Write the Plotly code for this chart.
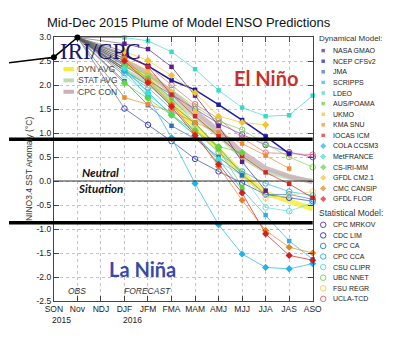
import plotly.graph_objects as go

W, H = 400, 339

# ---------------- data ----------------
axis_seasons = ["SON", "Nov", "NDJ", "DJF", "JFM", "FMA", "MAM", "AMJ", "MJJ", "JJA", "JAS", "ASO"]
pre_seasons = {"JAS 2015": -2, "ASO 2015": -1}
year_labels = {"SON": "2015", "DJF": "2016"}
fc_seasons = ["DJF", "JFM", "FMA", "MAM", "AMJ", "MJJ", "JJA", "JAS", "ASO"]

obs_seasons = ["JAS 2015", "SON", "Nov"]
obs_vals = [2.46, 2.58, 2.99]

dyn_names = ["NASA GMAO", "NCEP CFSv2", "JMA", "SCRIPPS", "LDEO", "AUS/POAMA", "UKMO",
             "KMA SNU", "IOCAS ICM", "COLA CCSM3", "MetFRANCE", "CS-IRI-MM",
             "GFDL CM2.1", "CMC CANSIP", "GFDL FLOR"]
dyn_colors = ["#5b1f8f", "#1c1ca8", "#2a6fc2", "#2fb0e4", "#3fd8c8", "#62cf3c", "#f2c33c",
              "#f08a2c", "#d42424", "#22b2e6", "#3fe0d2", "#5ed83c", "#f4c42c",
              "#e6821e", "#d42020"]
dyn_symbols = ["square"] * 9 + ["diamond"] * 6
dyn_values = [
    [2.86, 2.75, 2.38, 1.78, 1.15, 0.40, -0.20, None, None],      # NASA GMAO
    [2.62, 2.40, 2.10, 1.90, 1.59, 1.27, 0.93, 0.57, None],       # NCEP CFSv2
    [2.08, 1.58, 1.15, 0.88, 0.50, 0.12, None, None, None],       # JMA
    [2.34, 1.85, 1.37, 0.95, 0.45, -0.18, -0.71, -1.25, -1.63],   # SCRIPPS
    [2.99, 2.92, 2.69, 2.33, 1.89, 1.53, 1.35, 1.37, 1.78],       # LDEO
    [2.42, 2.15, 1.72, 1.22, 0.66, -0.12, None, None, None],      # AUS/POAMA
    [2.55, 2.30, 1.86, 1.45, None, None, None, None, None],       # UKMO
    [1.74, 1.60, 1.45, 1.22, 1.01, 0.78, 0.53, 0.26, None],       # KMA SNU
    [2.65, 2.38, 1.80, 1.35, 0.93, 0.52, 0.18, -0.06, -0.35],     # IOCAS ICM
    [2.30, 1.75, 0.90, -0.05, -0.91, -1.52, -1.80, -1.83, -1.72], # COLA CCSM3
    [2.35, 1.84, 1.38, 0.95, 0.45, None, None, None, None],       # MetFRANCE
    [2.04, 1.72, 1.37, 1.05, 0.72, 0.59, None, None, None],       # CS-IRI-MM
    [2.70, 2.51, 2.20, 1.84, 1.35, 1.22, 1.17, None, None],       # GFDL CM2.1
    [2.55, 2.10, 1.60, 1.00, 0.30, -0.40, -1.03, -1.38, -1.50],   # CMC CANSIP
    [2.50, 2.05, 1.55, 0.95, 0.35, -0.25, -1.10, -1.55, -1.65],   # GFDL FLOR
]

stat_names = ["CPC MRKOV", "CDC LIM", "CPC CA", "CPC CCA", "CSU CLIPR", "UBC NNET",
              "FSU REGR", "UCLA-TCD"]
stat_colors = ["#6a42c0", "#3442c4", "#3a86d4", "#34b4e2", "#62dde2", "#7ad85a",
               "#f0d264", "#e4707c"]
stat_values = [
    [2.40, 2.10, 1.80, 1.50, 1.20, 0.97, 0.75, 0.60, 0.50],       # CPC MRKOV
    [1.51, 1.17, 0.83, 0.46, 0.20, -0.04, -0.28, -0.35, -0.42],   # CDC LIM
    [2.30, 2.00, 1.60, 1.20, 0.70, 0.14, -0.28, -0.28, -0.38],    # CPC CA
    [2.25, 1.95, 1.50, 1.05, 0.60, 0.20, -0.05, -0.22, -0.30],    # CPC CCA
    [2.20, 1.80, 1.40, 1.00, 0.40, 0.12, -0.55, -0.63, -0.45],    # CSU CLIPR
    [2.45, 2.20, 1.90, 1.55, 1.25, 1.07, 0.77, 0.50, 0.29],       # UBC NNET
    [2.35, 2.00, 1.60, 1.10, 0.60, 0.10, -0.35, -0.30, -0.22],    # FSU REGR
    [2.60, 2.40, 2.00, 1.60, 1.30, 0.90, 0.59, 0.57, 0.55],       # UCLA-TCD
]

avg_names = ["DYN AVG", "STAT AVG", "CPC CON"]
avg_colors = ["#f6ee3a", "#b9dcb4", "#cdb1b9"]
avg_values = [
    [2.45, 2.17, 1.62, 1.15, 0.65, 0.15, -0.25, -0.42, -0.58],
    [2.30, 2.05, 1.70, 1.35, 0.95, 0.50, 0.20, 0.07, 0.00],
    [2.50, 2.25, 1.85, 1.45, 1.05, 0.60, 0.27, 0.10, -0.02],
]

neutral_bounds = [0.87, -0.87]
y_ticks = [3.0, 2.5, 2.0, 1.5, 1.0, 0.5, 0.0, -0.5, -1.0, -1.5, -2.0, -2.5]

# ---------------- geometry ----------------
X_SON, X_ASO = 47, 318
Y_TOP, Y_BOT = 33, 305
PX = (X_ASO - X_SON) / 11
FONT = "Liberation Sans, Arial, sans-serif"


def idx(s):
    if s in pre_seasons:
        return pre_seasons[s]
    return axis_seasons.index(s)


fc_x = [idx(s) for s in fc_seasons]

fig = go.Figure()

# Nov -> DJF connectors (gray)
cx, cy = [], []
for vals in avg_values + dyn_values + stat_values:
    cx += [idx("Nov"), fc_x[0], None]
    cy += [obs_vals[-1], vals[0], None]
fig.add_trace(go.Scatter(x=cx, y=cy, mode="lines", line=dict(color="#5a5a5a", width=0.6),
                         hoverinfo="skip", showlegend=False))

# averages (thick)
for name, col, vals in zip(avg_names, avg_colors, avg_values):
    fig.add_trace(go.Scatter(x=fc_x, y=vals, mode="lines", name=name,
                             line=dict(color=col, width=5 if name == "DYN AVG" else 4.5),
                             opacity=0.85, showlegend=False))

# statistical models
for name, col, vals in zip(stat_names, stat_colors, stat_values):
    fig.add_trace(go.Scatter(x=fc_x, y=vals, mode="lines+markers", name=name,
                             line=dict(color=col, width=0.7),
                             marker=dict(symbol="circle-open", size=5.5, color=col,
                                         line=dict(width=1, color=col)),
                             cliponaxis=False, showlegend=False))

# dynamical models
for name, col, sym, vals in zip(dyn_names, dyn_colors, dyn_symbols, dyn_values):
    fig.add_trace(go.Scatter(x=fc_x, y=vals, mode="lines+markers", name=name,
                             line=dict(color=col, width=1.5 if name == "NCEP CFSv2" else 0.7),
                             marker=dict(symbol=sym, size=4.5 if sym == "square" else 5.5,
                                         color=col, line=dict(width=0)),
                             cliponaxis=False, showlegend=False))

# observations (on extended overlay axis so the lead-in reaches the left edge)
fig.add_trace(go.Scatter(x=[idx(s) for s in obs_seasons], y=obs_vals, mode="lines",
                         line=dict(color="black", width=1.5), xaxis="x2", yaxis="y2",
                         hoverinfo="skip", showlegend=False))
fig.add_trace(go.Scatter(x=[idx(s) for s in obs_seasons[1:]], y=obs_vals[1:], mode="markers",
                         marker=dict(color="black", size=6), cliponaxis=False,
                         xaxis="x2", yaxis="y2", showlegend=False))

# right-hand legend markers (pixel overlay axis)
LEG_MX, LEG_TX = 329, 337
dyn_leg_y = [47 + 10.92 * i for i in range(len(dyn_names))]
stat_leg_y = [226.5 + 10.9 * i for i in range(len(stat_names))]
fig.add_trace(go.Scatter(x=[LEG_MX] * len(dyn_names), y=dyn_leg_y, mode="markers",
                         marker=dict(symbol=dyn_symbols, color=dyn_colors,
                                     size=[4.5 if s == "square" else 5.5 for s in dyn_symbols]),
                         xaxis="x3", yaxis="y3", hoverinfo="skip", showlegend=False))
fig.add_trace(go.Scatter(x=[LEG_MX] * len(stat_names), y=stat_leg_y, mode="markers",
                         marker=dict(symbol="circle-open", color=stat_colors, size=5.5,
                                     line=dict(width=1, color=stat_colors)),
                         xaxis="x3", yaxis="y3", hoverinfo="skip", showlegend=False))

# ---------------- layout ----------------
ydom = [(H - Y_BOT) / H, (H - Y_TOP) / H]
fig.update_layout(
    width=W, height=H, margin=dict(l=0, r=0, t=0, b=0),
    paper_bgcolor="white", plot_bgcolor="rgba(0,0,0,0)", showlegend=False,
    xaxis=dict(domain=[X_SON / W, X_ASO / W], range=[0, 11], tickvals=list(range(12)),
               ticktext=axis_seasons, ticks="inside", ticklen=5, tickcolor="#444",
               mirror="ticks", showline=True, linecolor="#444", linewidth=1,
               showgrid=True, gridcolor="#c4c4c4", griddash="dot", gridwidth=0.8,
               zeroline=False, tickfont=dict(family=FONT, size=8.5, color="#222"),
               anchor="y", fixedrange=True),
    yaxis=dict(domain=ydom, range=[-2.5, 3.0], tickvals=y_ticks,
               ticktext=[f"{v:.1f}" for v in y_ticks], ticks="inside", ticklen=5,
               tickcolor="#444", mirror="ticks", showline=True, linecolor="#444", linewidth=1,
               showgrid=True, gridcolor="#c4c4c4", griddash="dot", gridwidth=0.8,
               zeroline=False, tickfont=dict(family=FONT, size=8.5, color="#222"),
               anchor="x", fixedrange=True),
    xaxis2=dict(domain=[0, X_ASO / W], range=[-X_SON / PX, 11], visible=False, anchor="y2"),
    yaxis2=dict(domain=ydom, range=[-2.5, 3.0], visible=False, anchor="x2"),
    xaxis3=dict(domain=[0, 1], range=[0, W], visible=False, anchor="y3"),
    yaxis3=dict(domain=[0, 1], range=[H, 0], visible=False, anchor="x3"),
)

shapes = []
for b in neutral_bounds:
    shapes.append(dict(type="line", xref="paper", x0=0, x1=X_ASO / W, yref="y", y0=b, y1=b,
                       line=dict(color="black", width=3.5), layer="above"))
shapes.append(dict(type="line", xref="x", x0=0, x1=11, yref="y", y0=0, y1=0,
                   line=dict(color="#333", width=1.2), layer="above"))
# in-plot legend samples
for i, (name, col) in enumerate(zip(avg_names, avg_colors)):
    yy = 66 + 11.7 * i
    shapes.append(dict(type="line", xref="paper", yref="paper", x0=57 / W, x1=68 / W,
                       y0=1 - yy / H, y1=1 - yy / H, line=dict(color=col, width=4)))
fig.update_layout(shapes=shapes)


def ann(text, x, y, size, color="#222", family=FONT, xanchor="center", **kw):
    return dict(text=text, x=x / W, y=1 - y / H, xref="paper", yref="paper",
                showarrow=False, xanchor=xanchor, yanchor="middle",
                font=dict(size=size, color=color, family=family), **kw)


anns = [
    ann("Mid-Dec 2015 Plume of Model ENSO Predictions", 188, 18, 13, "#111"),
    ann("IRI/CPC", 96, 48, 23, "#16166a", "Liberation Serif, Times New Roman, serif"),
    ann("<b>El Niño</b>", 269, 75, 20, "#c9302c", "Lato, Open Sans, sans-serif"),
    ann("<b>La Niña</b>", 140, 272, 20, "#3a48a8", "Lato, Open Sans, sans-serif"),
    ann("<b><i>Neutral</i></b>", 96, 173, 11.5, "#111", "Lato, Open Sans, sans-serif"),
    ann("<b><i>Situation</i></b>", 96, 189, 11.5, "#111", "Lato, Open Sans, sans-serif"),
    ann("<i>OBS</i>", X_SON + PX * idx("Nov"), 295, 8.5, "#333"),
    ann("<i>FORECAST</i>", X_SON + PX * idx("JFM"), 295, 8.5, "#333"),
    ann("NINO3.4 SST Anomaly (°C)", 21, 169, 8.5, "#333", textangle=-90),
    ann("Dynamical Model:", 323, 35, 8, "#333", xanchor="left"),
    ann("Statistical Model:", 323, 214, 8.5, "#333", xanchor="left"),
]
for s, yr in year_labels.items():
    anns.append(ann(yr, X_SON + PX * idx(s) + 8, 325, 8.5, "#222"))
for i, name in enumerate(avg_names):
    anns.append(ann(name, 70, 66 + 11.7 * i, 8.5, "#444", xanchor="left"))
for name, yy in zip(dyn_names, dyn_leg_y):
    anns.append(ann(name, LEG_TX, yy, 7, "#222", xanchor="left"))
for name, yy in zip(stat_names, stat_leg_y):
    anns.append(ann(name, LEG_TX, yy, 7, "#222", xanchor="left"))
fig.update_layout(annotations=anns)

fig.write_html("out.html")
